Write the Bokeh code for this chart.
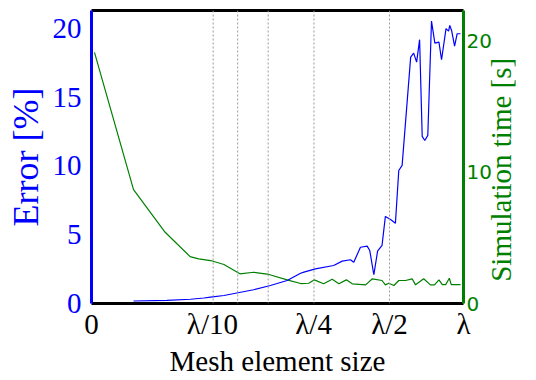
import math
from bokeh.plotting import figure
from bokeh.models import Range1d, LinearAxis, FixedTicker, Span
from bokeh.embed import file_html
from bokeh.resources import INLINE

# Mesh element size, as a position along the horizontal axis (0 .. 100)
tick_pos = [0, 32.5, 59.7, 80.1, 100]
tick_labels = ["0", "λ/10", "λ/4", "λ/2", "λ"]
grid_pos = [32.7, 39.3, 47.5, 59.8, 80.1]

# Error [%]
err_x = [11.3, 20.3, 26.6, 30.2, 32.0, 35.6, 40.1, 43.6, 48.1, 52.6, 56.2, 57.1,
         60.2, 65.1, 67.4, 69.6, 70.5, 72.3, 74.1, 74.8, 75.9, 76.9, 78.1, 79.0,
         80.4, 81.7, 82.6, 83.5, 85.8, 86.6, 87.4, 88.2, 88.9, 89.6, 90.4, 91.4,
         92.3, 93.4, 94.1, 95.3, 96.0, 96.3, 96.8, 97.6, 98.3, 99.2]
err_y = [0.18, 0.22, 0.31, 0.40, 0.46, 0.58, 0.82, 1.00, 1.31, 1.67, 2.20, 2.28,
         2.52, 2.76, 3.08, 3.18, 3.00, 4.09, 4.17, 3.85, 2.09, 3.80, 4.22, 6.33,
         6.11, 5.84, 9.67, 10.04, 17.91, 18.20, 17.55, 19.18, 12.15, 11.85, 12.22, 20.53,
         18.93, 19.00, 17.72, 19.98, 19.80, 20.22, 19.85, 18.71, 19.61, 19.61]

# Simulation time [s]
time_x = [0.8, 11.3, 19.8, 26.5, 28.8, 32.0, 35.6, 39.9, 43.6, 47.7, 52.6, 56.2,
          58.4, 59.9, 62.4, 64.7, 66.5, 68.5, 70.1, 73.7, 75.5, 78.1, 79.0, 79.9,
          81.3, 82.6, 84.4, 86.2, 87.1, 89.3, 91.1, 92.2, 93.4, 94.3, 95.2, 96.2,
          96.7, 99.2]
time_y = [19.11, 8.67, 5.42, 3.57, 3.40, 3.27, 2.97, 2.26, 2.38, 2.21, 1.80, 1.52,
          1.54, 1.80, 1.50, 1.85, 1.50, 1.80, 1.50, 1.42, 1.88, 1.75, 1.42, 1.54,
          1.37, 1.75, 1.75, 1.88, 1.42, 1.88, 1.42, 1.42, 1.80, 1.44, 1.44, 1.92,
          1.44, 1.44]

SERIF = "Liberation Serif"
BLUE = "#0000ff"
GREEN = "#008000"

p = figure(width=536, height=380, output_backend="svg", toolbar_location=None,
           x_range=Range1d(0, 100), y_range=Range1d(0, 21.3),
           x_axis_location=None, y_axis_location=None,
           min_border_left=91, min_border_right=73, min_border_top=10, min_border_bottom=77)
p.extra_y_ranges = {"time": Range1d(0, 22.3)}
p.grid.visible = False
p.outline_line_color = None
p.background_fill_color = "white"
p.border_fill_color = "white"

for xp in grid_pos:
    p.add_layout(Span(location=xp, dimension="height", line_color="#999999",
                      line_dash="2 2", line_width=1))

p.line(time_x, time_y, y_range_name="time", line_color=GREEN, line_width=1.2)
p.line(err_x, err_y, line_color=BLUE, line_width=1.2)

# left axis: error
ax_l = LinearAxis(ticker=FixedTicker(ticks=[0, 5, 10, 15, 20]), axis_label="Error [%]")
ax_l.axis_line_color = BLUE
ax_l.axis_line_width = 3
ax_l.major_tick_line_color = None
ax_l.minor_tick_line_color = None
ax_l.major_tick_out = 0
ax_l.major_label_standoff = 10
ax_l.major_label_text_color = BLUE
ax_l.major_label_text_font = SERIF
ax_l.major_label_text_font_size = "29px"
ax_l.axis_label_text_color = BLUE
ax_l.axis_label_text_font = SERIF
ax_l.axis_label_text_font_size = "36px"
ax_l.axis_label_text_font_style = "normal"
ax_l.axis_label_standoff = 4
p.add_layout(ax_l, "left")

# right axis: simulation time, title reads upwards from near the bottom of the frame
ax_r = LinearAxis(y_range_name="time", ticker=FixedTicker(ticks=[0, 10, 20]),
                  axis_label="\u00a0\u00a0\u00a0Simulation time [s]")
ax_r.axis_line_color = GREEN
ax_r.axis_line_width = 3
ax_r.major_tick_line_color = None
ax_r.minor_tick_line_color = None
ax_r.major_tick_out = 0
ax_r.major_label_standoff = 3
ax_r.major_label_text_color = GREEN
ax_r.major_label_text_font = "DejaVu Sans"
ax_r.major_label_text_font_size = "20px"
ax_r.axis_label_text_color = GREEN
ax_r.axis_label_text_font = SERIF
ax_r.axis_label_text_font_size = "29px"
ax_r.axis_label_text_font_style = "normal"
ax_r.axis_label_orientation = math.pi / 2
ax_r.axis_label_align = "start"
ax_r.axis_label_standoff = 6
p.add_layout(ax_r, "right")

# bottom axis: mesh element size
ax_b = LinearAxis(ticker=FixedTicker(ticks=tick_pos), axis_label="Mesh element size")
ax_b.major_label_overrides = {t: s for t, s in zip(tick_pos, tick_labels)}
ax_b.axis_line_color = "black"
ax_b.axis_line_width = 3
ax_b.major_tick_line_color = None
ax_b.minor_tick_line_color = None
ax_b.major_tick_out = 0
ax_b.major_label_standoff = 4
ax_b.major_label_text_color = "black"
ax_b.major_label_text_font = SERIF
ax_b.major_label_text_font_size = "29px"
ax_b.axis_label_text_color = "black"
ax_b.axis_label_text_font = SERIF
ax_b.axis_label_text_font_size = "29px"
ax_b.axis_label_text_font_style = "normal"
ax_b.axis_label_standoff = 2
p.add_layout(ax_b, "below")

# top frame edge
ax_t = LinearAxis(ticker=FixedTicker(ticks=[]))
ax_t.axis_line_color = "black"
ax_t.axis_line_width = 3
ax_t.major_tick_line_color = None
ax_t.minor_tick_line_color = None
ax_t.major_label_text_font_size = "0px"
p.add_layout(ax_t, "above")

open("out.html", "w").write(file_html(p, INLINE))
